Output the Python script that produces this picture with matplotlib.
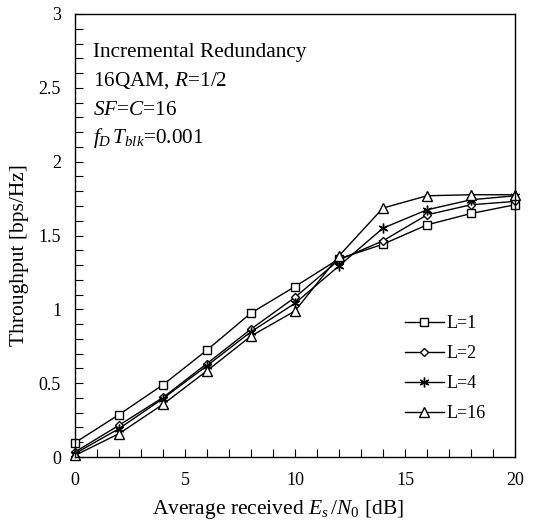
import matplotlib
matplotlib.use("Agg")
import matplotlib.pyplot as plt
from matplotlib.ticker import MultipleLocator, FuncFormatter

plt.rcParams['font.family'] = ['Liberation Serif', 'DejaVu Serif']
plt.rcParams['mathtext.fontset'] = 'custom'
plt.rcParams['mathtext.rm'] = 'Liberation Serif'
plt.rcParams['mathtext.it'] = 'Liberation Serif:italic'

snr = [0, 2, 4, 6, 8, 10, 12, 14, 16, 18, 20]
L1 = [0.097, 0.287, 0.489, 0.724, 0.975, 1.154, 1.342, 1.441, 1.572, 1.649, 1.708]
L2 = [0.034, 0.215, 0.403, 0.633, 0.866, 1.081, 1.335, 1.464, 1.640, 1.708, 1.731]
L4 = [0.023, 0.192, 0.396, 0.618, 0.848, 1.041, 1.294, 1.550, 1.674, 1.742, 1.769]
L16 = [0.011, 0.158, 0.357, 0.584, 0.819, 0.989, 1.362, 1.686, 1.769, 1.776, 1.776]
labels = ['L=1', 'L=2', 'L=4', 'L=16']
markers = ['s', 'D', (6, 2, 0), '^']
sizes = [5.2, 4.2, 7, 6.5]

W, H = 533, 528
fig = plt.figure(figsize=(W/100, H/100), dpi=100)
x0, x1, y0, y1 = 75, 515, 14, 457
ax = fig.add_axes([x0/W, 1-y1/H, (x1-x0)/W, (y1-y0)/H])

for y, lab, m, s in zip([L1, L2, L4, L16], labels, markers, sizes):
    ax.plot(snr, y, color='black', lw=1.0, marker=m, ms=s,
            mfc='white', mec='black', mew=1.0, label=lab, clip_on=False)

ax.set_xlim(0, 20)
ax.set_ylim(0, 3)
ax.xaxis.set_major_locator(MultipleLocator(5))
ax.xaxis.set_minor_locator(MultipleLocator(1))
ax.yaxis.set_major_locator(MultipleLocator(0.5))
ax.yaxis.set_minor_locator(MultipleLocator(0.1))
ax.yaxis.set_major_formatter(FuncFormatter(lambda v, p: '%g' % v))
ax.tick_params(which='both', direction='in', top=False, right=False, labelsize=13,
               length=6, width=0.8)
ax.tick_params(axis='x', pad=11)
ax.tick_params(axis='y', pad=10)
for sp in ax.spines.values():
    sp.set_linewidth(1.0)

ax.set_xlabel(r'Average received $E_s\,/N_0$ [dB]', fontsize=15.5)
ax.xaxis.set_label_coords((278-x0)/(x1-x0), (y1-498)/(y1-y0))
ax.set_ylabel('Throughput [bps/Hz]', fontsize=15.5)
ax.yaxis.set_label_coords((29-x0)/(x1-x0), (y1-255)/(y1-y0))

def ty(py):
    return (y1-py)/(y1-y0)
tx = (93-x0)/(x1-x0)
fs = 15.3
ax.text(tx, ty(57), 'Incremental Redundancy', transform=ax.transAxes, fontsize=fs, va='baseline')
ax.text(tx, ty(86), r'16QAM, $R$=1/2', transform=ax.transAxes, fontsize=fs, va='baseline')
ax.text(tx, ty(115), r'$SF$=$C$=16', transform=ax.transAxes, fontsize=fs, va='baseline')
ax.text(tx, ty(143), r'$f_D\,T_{blk}$=0.001', transform=ax.transAxes, fontsize=fs, va='baseline')

ax.legend(loc='upper left', bbox_to_anchor=((405-x0)/(x1-x0), ty(315)), frameon=False,
          fontsize=13, handlelength=2.15, handletextpad=0.15, labelspacing=0.72,
          borderaxespad=0, borderpad=0)

fig.savefig('out.png', dpi=100)
